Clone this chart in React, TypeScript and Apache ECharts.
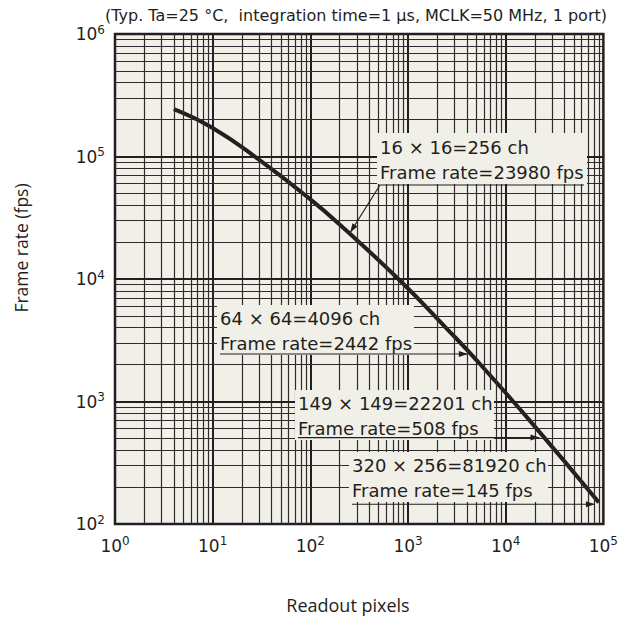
import React, { useEffect, useRef } from "react";
import * as echarts from "echarts";

// Curve (readout pixels -> frame rate)
const pixels = [4, 10, 30, 96, 229, 851, 2560, 5160, 17300, 90000];
const frameRates = [244000, 171000, 93800, 45900, 25200, 9490, 3850, 2125, 711, 150];

// Annotated operating points
const annotationCh = ["16 × 16=256 ch", "64 × 64=4096 ch", "149 × 149=22201 ch", "320 × 256=81920 ch"];
const annotationFpsText = ["Frame rate=23980 fps", "Frame rate=2442 fps", "Frame rate=508 fps", "Frame rate=145 fps"];
const annotationPixels = [256, 4096, 22201, 81920];
const annotationFps = [23980, 2442, 508, 145];

const xTickExponents = [0, 1, 2, 3, 4, 5];
const yTickExponents = [2, 3, 4, 5, 6];

const titleText = "(Typ. Ta=25 °C,  integration time=1 µs, MCLK=50 MHz, 1 port)";
const xName = "Readout pixels";
const yName = "Frame rate (fps)";

const INK = "#231f20";
const PLOT_BG = "#f1f0e8";
const FONT = '"DejaVu Sans", Verdana, sans-serif';

// layout of the annotation boxes (pixels)
const annLayout = [
  { tx: 380, y1: 147, y2: 172, rect: [377, 133, 210, 51], under: 185, diag: true },
  { tx: 220, y1: 318, y2: 343, rect: [217, 305, 197, 50], under: 0, diag: false },
  { tx: 298, y1: 403, y2: 428, rect: [295, 390, 199, 50], under: 0, diag: false },
  { tx: 352, y1: 465, y2: 490, rect: [349, 452, 199, 50], under: 0, diag: false },
];

function gridValues(minExp: number, maxExp: number) {
  const out: { v: number; major: boolean }[] = [];
  for (let e = minExp; e < maxExp; e++) {
    for (let m = 1; m <= 9; m++) {
      if (m === 1 && e === minExp) continue;
      out.push({ v: m * Math.pow(10, e), major: m === 1 });
    }
  }
  return out;
}

function arrowHead(tip: number[], from: number[], len = 9, half = 3) {
  const dx = tip[0] - from[0];
  const dy = tip[1] - from[1];
  const d = Math.hypot(dx, dy) || 1;
  const ux = dx / d, uy = dy / d;
  const bx = tip[0] - ux * len, by = tip[1] - uy * len;
  return [
    [tip[0], tip[1]],
    [bx - uy * half, by + ux * half],
    [bx + uy * half, by - ux * half],
  ];
}

export default function App() {
  const ref = useRef<HTMLDivElement>(null);
  useEffect(() => {
    if (!ref.current) return;
    const chart = echarts.init(ref.current, null, { renderer: "svg" });

    const lineStyleFor = (major: boolean) => ({
      color: major ? "#231f20" : "#2f2b2c",
      width: major ? 2 : 1.2,
      type: "solid",
    });
    const xGrid = gridValues(0, 5).map((g) => ({ xAxis: g.v, lineStyle: lineStyleFor(g.major) }));
    const yGrid = gridValues(2, 6).map((g) => ({ yAxis: g.v, lineStyle: lineStyleFor(g.major) }));

    const curve = pixels.map((p, i) => [p, frameRates[i]]);
    const labelFmt = (v: number) => `{b|10}{s|${Math.round(Math.log10(v))}}`;
    const rich = {
      b: { fontSize: 17, fontFamily: FONT, color: INK },
      s: { fontSize: 12, fontFamily: FONT, color: INK, padding: [0, 0, 9, 0] },
    };

    chart.setOption({
      animation: false,
      backgroundColor: "#ffffff",
      grid: {
        left: 115,
        right: 14,
        top: 34,
        bottom: 95,
        show: true,
        backgroundColor: PLOT_BG,
        borderColor: INK,
        borderWidth: 2.5,
      },
      xAxis: {
        type: "log",
        logBase: 10,
        min: Math.pow(10, xTickExponents[0]),
        max: Math.pow(10, xTickExponents[xTickExponents.length - 1]),
        splitNumber: 5,
        axisLine: { show: false },
        axisTick: { show: false },
        splitLine: { show: false },
        axisLabel: { formatter: labelFmt, rich, margin: 11 },
      },
      yAxis: {
        type: "log",
        logBase: 10,
        min: Math.pow(10, yTickExponents[0]),
        max: Math.pow(10, yTickExponents[yTickExponents.length - 1]),
        splitNumber: 4,
        axisLine: { show: false },
        axisTick: { show: false },
        splitLine: { show: false },
        axisLabel: { formatter: labelFmt, rich, margin: 10 },
      },
      series: [
        {
          type: "line",
          data: curve,
          symbol: "none",
          silent: true,
          lineStyle: { opacity: 0 },
          markLine: {
            silent: true,
            symbol: ["none", "none"],
            label: { show: false },
            emphasis: { disabled: true },
            data: [...xGrid, ...yGrid],
          },
        },
        {
          type: "line",
          data: curve,
          symbol: "none",
          smooth: 0.5,
          silent: true,
          lineStyle: { color: INK, width: 4 },
        },
      ],
    });

    const graphics: any[] = [];
    graphics.push({
      type: "text",
      z: 100,
      style: {
        text: titleText,
        x: 607,
        y: 15,
        textAlign: "right",
        textVerticalAlign: "middle",
        font: '16px "DejaVu Sans", sans-serif',
        fill: INK,
      },
    });
    graphics.push({
      type: "text",
      z: 100,
      style: {
        text: xName,
        x: 348,
        y: 605,
        textAlign: "center",
        textVerticalAlign: "middle",
        font: '18px "Open Sans", sans-serif',
        fill: INK,
      },
    });
    graphics.push({
      type: "text",
      z: 100,
      x: 21,
      y: 248,
      rotation: Math.PI / 2,
      style: {
        text: yName,
        x: 0,
        y: 0,
        textAlign: "center",
        textVerticalAlign: "middle",
        font: '17.5px "Open Sans", sans-serif',
        fill: INK,
      },
    });

    annotationPixels.forEach((px, i) => {
      const L = annLayout[i];
      const pt = chart.convertToPixel({ gridIndex: 0 }, [px, annotationFps[i]]) as number[];
      graphics.push({
        type: "rect",
        z: 100,
        shape: { x: L.rect[0], y: L.rect[1], width: L.rect[2], height: L.rect[3] },
        style: { fill: PLOT_BG },
      });
      [annotationCh[i], annotationFpsText[i]].forEach((t, k) => {
        graphics.push({
          type: "text",
          z: 101,
          style: {
            text: t,
            x: L.tx,
            y: k === 0 ? L.y1 : L.y2,
            textAlign: "left",
            textVerticalAlign: "middle",
            font: `18px ${FONT}`,
            fill: INK,
          },
        });
      });
      if (L.diag) {
        const ux = L.tx, uy = L.under;
        graphics.push({
          type: "polyline",
          z: 101,
          shape: { points: [[L.rect[0] + L.rect[2] - 3, uy], [ux, uy], [pt[0], pt[1]]] },
          style: { stroke: INK, lineWidth: 1.2, fill: null },
        });
        graphics.push({
          type: "polygon",
          z: 101,
          shape: { points: arrowHead(pt, [ux, uy]) },
          style: { fill: INK },
        });
      } else {
        graphics.push({
          type: "line",
          z: 101,
          shape: { x1: L.tx, y1: pt[1], x2: pt[0], y2: pt[1] },
          style: { stroke: INK, lineWidth: 1.2 },
        });
        graphics.push({
          type: "polygon",
          z: 101,
          shape: { points: arrowHead(pt, [L.tx, pt[1]]) },
          style: { fill: INK },
        });
      }
    });

    chart.setOption({ graphic: graphics });

    return () => chart.dispose();
  }, []);

  return (
    <div
      ref={ref}
      style={{ position: "fixed", left: 0, top: 0, width: 621, height: 619, background: "#fff" }}
    />
  );
}
